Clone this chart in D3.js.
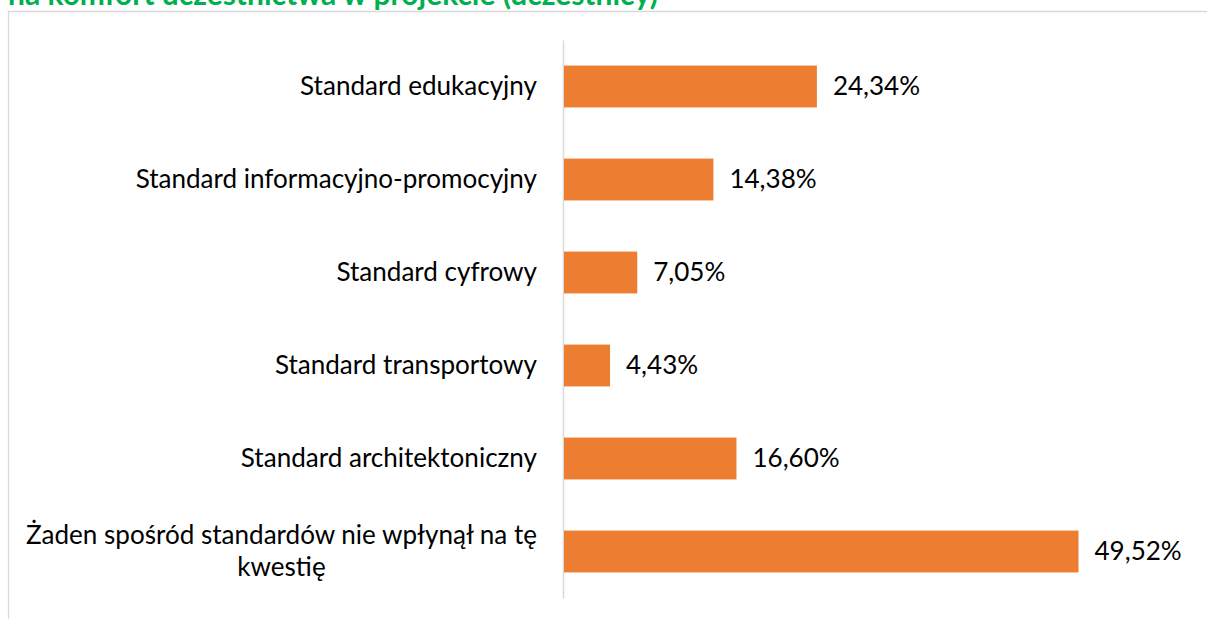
<!DOCTYPE html>
<html>
<head>
<meta charset="utf-8">
<script src="https://cdn.jsdelivr.net/npm/d3@7"></script>
<style>
  body { margin: 0; background: #fff; }
  svg { display: block; }
</style>
</head>
<body>
<svg width="1207" height="619"></svg>
<script>
const title = "na komfort uczestnictwa w projekcie (uczestnicy)";
const categories = [
  "Standard edukacyjny",
  "Standard informacyjno-promocyjny",
  "Standard cyfrowy",
  "Standard transportowy",
  "Standard architektoniczny",
  "Żaden spośród standardów nie wpłynął na tę kwestię"
];
const values = [24.34, 14.38, 7.05, 4.43, 16.60, 49.52];

const FONT = "Lato, 'Noto Sans', sans-serif";
const svg = d3.select("svg");

// dopasowanie rozmiaru czcionki do szerokości z obrazka
function fitSize(text, weight, target) {
  const t = svg.append("text").attr("font-family", FONT).attr("font-weight", weight)
    .attr("font-size", 100).text(text);
  const w = t.node().getComputedTextLength();
  t.remove();
  return 100 * target / w;
}
const labelSize = fitSize("Standard edukacyjny", "normal", 237);
const titleSize = fitSize(title, "bold", 650);

// ramka wykresu (ucięta)
svg.append("path")
  .attr("d", "M8.5,619V11.5H1207")
  .attr("fill", "none")
  .attr("stroke", "#d9d9d9")
  .attr("stroke-width", 1.3);

svg.append("text")
  .attr("x", 8)
  .attr("y", 5)
  .attr("font-family", FONT)
  .attr("font-weight", "bold")
  .attr("font-size", titleSize)
  .attr("fill", "#00b050")
  .text(title);

const x = d3.scaleLinear().domain([0, 60]).range([564, 564 + 623.4]);
const y = d3.scaleBand().domain(categories).range([40, 598])
  .paddingInner(0.55).paddingOuter(0.275);

const axis = svg.append("g")
  .attr("transform", "translate(563,0)")
  .call(d3.axisLeft(y).tickSize(0).tickSizeOuter(0).tickPadding(26));
axis.select(".domain").attr("stroke", "#d9d9d9").attr("stroke-width", 1.5);
axis.selectAll(".tick text")
  .attr("font-family", FONT)
  .attr("font-size", labelSize)
  .attr("fill", "#000")
  .attr("dy", null)
  .attr("y", labelSize * 0.33)
  .each(function () { wrap(d3.select(this), 525); });

function wrap(text, width) {
  const words = text.text().split(" ");
  const lines = [];
  let line = [];
  text.text(null);
  const probe = text.append("tspan");
  words.forEach(w => {
    line.push(w);
    probe.text(line.join(" "));
    if (probe.node().getComputedTextLength() > width && line.length > 1) {
      line.pop();
      lines.push(line.join(" "));
      line = [w];
    }
  });
  lines.push(line.join(" "));
  probe.remove();
  if (lines.length === 1) { text.text(lines[0]); return; }
  const lh = labelSize * 1.21;
  const y0 = +text.attr("y") - lh * (lines.length - 1) / 2;
  const widths = [];
  lines.forEach((l, i) => {
    const ts = text.append("tspan").attr("x", 0).attr("y", y0 + i * lh).text(l);
    widths.push(ts.node().getComputedTextLength());
  });
  // wyśrodkowanie linii względem najdłuższej
  const maxW = d3.max(widths);
  text.selectAll("tspan").attr("x", (d, i) => -26 - (maxW - widths[i]) / 2);
}

svg.append("g").selectAll("rect")
  .data(values)
  .join("rect")
  .attr("x", x(0))
  .attr("y", (d, i) => y(categories[i]))
  .attr("width", d => x(d) - x(0))
  .attr("height", y.bandwidth())
  .attr("fill", "#ed7d31");

svg.append("g").selectAll("text")
  .data(values)
  .join("text")
  .attr("x", d => x(d) + 16)
  .attr("y", (d, i) => y(categories[i]) + y.bandwidth() / 2 + labelSize * 0.33)
  .attr("font-family", FONT)
  .attr("font-size", labelSize)
  .attr("fill", "#000")
  .text(d => d.toFixed(2).replace(".", ",") + "%");
</script>
</body>
</html>
